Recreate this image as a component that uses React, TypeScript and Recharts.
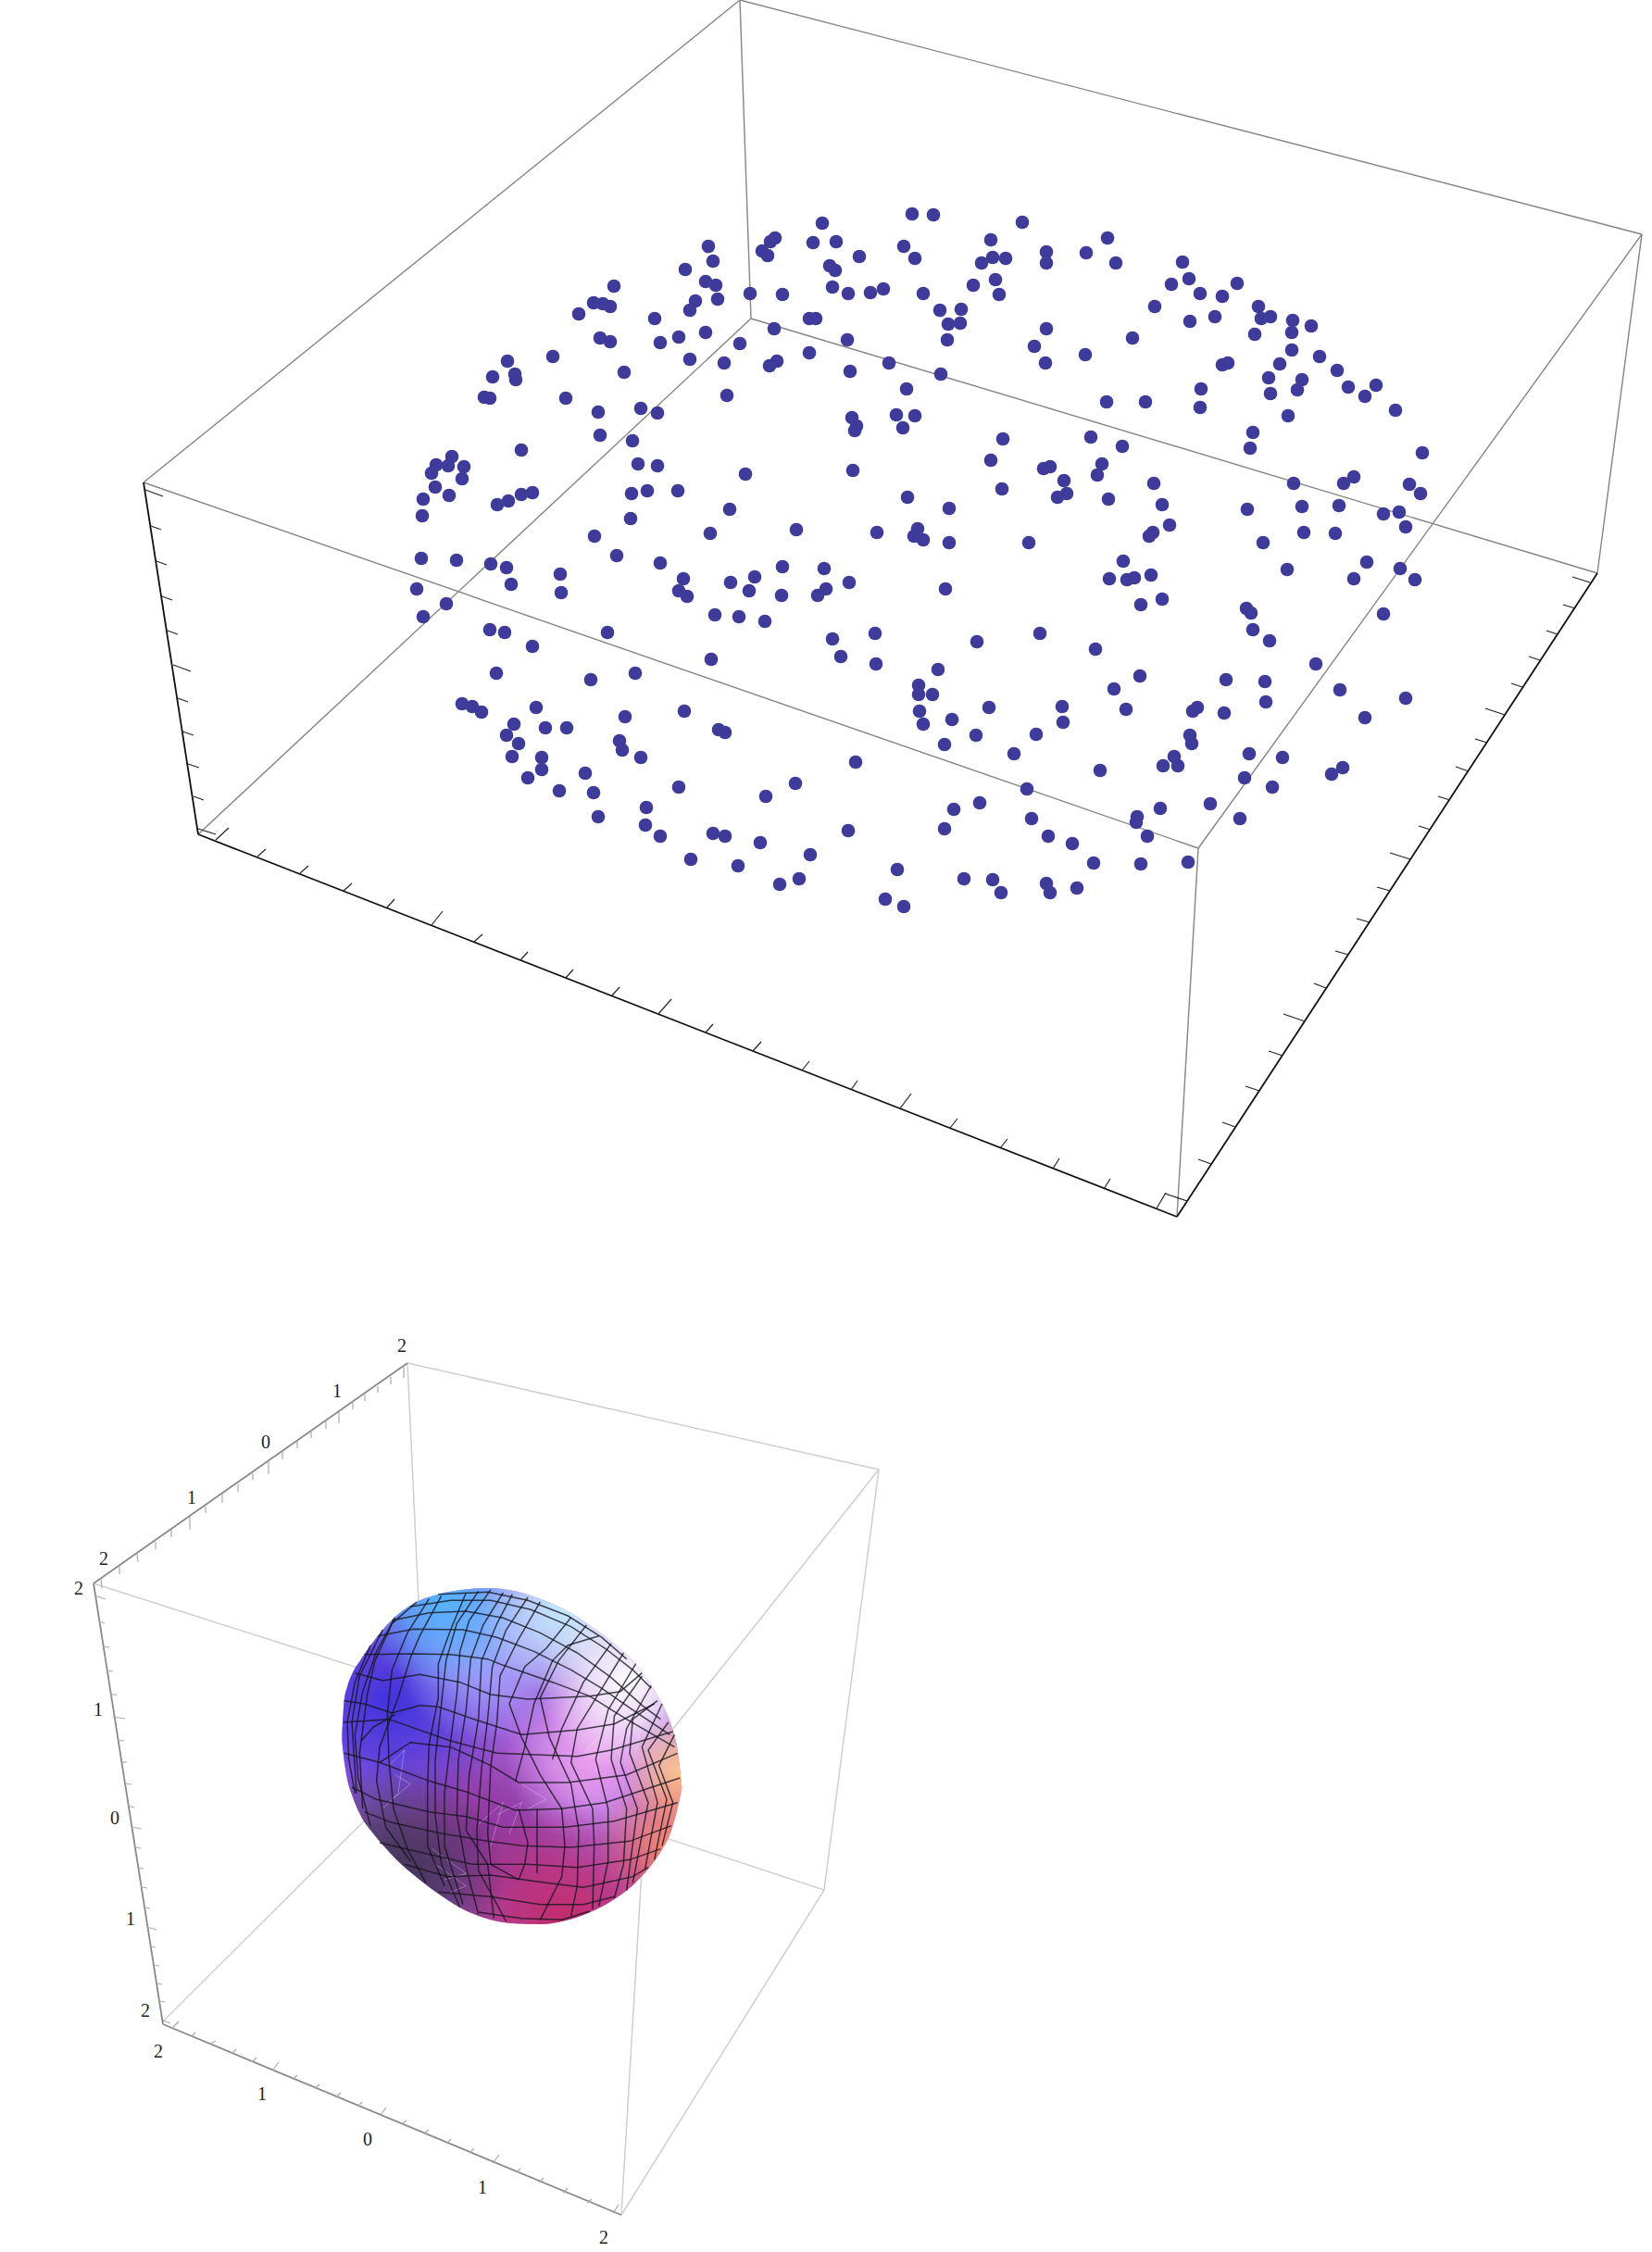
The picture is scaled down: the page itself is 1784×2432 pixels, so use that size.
import { Area, ComposedChart, Line, Scatter, XAxis, YAxis } from "recharts";

type Seg = number[];

// dots of the upper plot, read as [x, y] on the page
const dots: number[][] = [
  [985,231],[888,241],[837,257],[832,261],[878,262],[903,261],[976,266],[765,266],[823,271],[829,276],[928,277],[988,279],[770,282],[896,287],[902,292],[740,291],[762,304],[773,308],[663,309],[899,310],[916,317],[940,316],[954,312],[810,317],[845,318],[997,317],[641,327],[651,328],[659,331],[751,325],[775,323],[745,335],[625,339],[707,344],[874,344],[881,344],[836,355],[762,359],[733,364],[648,365],[659,369],[713,370],[915,367],[799,371],[597,385],[745,388],[874,381],[782,392],[839,390],[831,395],[960,392],[548,390],[918,401],[532,407],[556,404],[557,410],[674,402],[979,420],[523,429],[529,430],[611,430],[785,427],[692,441],[710,446],[646,445],[920,451],[925,460],[923,465],[968,448],[988,449],[975,462],[648,470],[683,476],[563,486],[488,493],[471,502],[484,503],[501,504],[466,511],[499,517],[689,501],[710,503],[805,512],[921,508],[470,526],[485,535],[457,539],[682,533],[699,530],[732,530],[575,532],[563,534],[549,541],[537,545],[980,537],[456,557],[788,550],[681,560],[860,572],[642,579],[767,576],[947,575],[991,571],[987,579],[997,583],
  [1008,232],[1104,240],[1070,259],[1130,272],[1130,284],[1072,278],[1086,279],[1060,284],[1196,257],[1173,273],[1205,284],[1277,283],[1075,302],[1051,308],[1079,318],[1265,307],[1284,301],[1296,317],[1336,306],[1320,320],[1247,331],[1015,335],[1038,334],[1024,350],[1037,349],[1023,367],[1359,331],[1362,344],[1372,342],[1312,342],[1285,347],[1396,346],[1416,352],[1395,359],[1355,361],[1130,355],[1117,374],[1223,365],[1395,378],[1172,383],[1129,392],[1425,385],[1326,392],[1320,394],[1382,393],[1444,400],[1370,408],[1406,410],[1401,421],[1372,425],[1016,404],[1456,418],[1486,416],[1474,428],[1297,420],[1296,440],[1195,434],[1237,434],[1507,443],[1391,449],[1353,467],[1350,484],[1083,474],[1178,472],[1212,482],[1536,489],[1070,497],[1190,501],[1134,504],[1127,506],[1185,513],[1149,519],[1246,522],[1462,515],[1451,522],[1522,523],[1397,522],[1534,533],[1082,528],[1152,533],[1142,537],[1197,539],[1255,545],[1406,547],[1446,546],[1347,550],[1025,549],[1511,553],[1494,555],[1263,567],[1518,569],[1245,575],[1241,579],[1408,575],[1442,576],[1111,586],[1025,586],[1364,586],
  [455,603],[493,605],[530,609],[547,613],[605,620],[666,600],[713,608],[738,625],[789,629],[815,623],[845,612],[890,614],[917,629],[450,636],[552,631],[606,640],[733,638],[742,644],[809,638],[844,643],[892,636],[883,643],[482,652],[457,666],[772,664],[798,666],[826,671],[529,680],[545,683],[656,683],[899,690],[945,684],[575,698],[908,709],[946,717],[768,712],[536,727],[638,734],[686,727],[992,740],[992,750],[993,768],[997,782],[499,760],[510,763],[520,769],[579,764],[739,768],[675,774],[555,782],[589,786],[612,786],[547,794],[776,788],[783,791],[560,803],[669,800],[672,810],[692,818],[553,817],[585,818],[585,831],[924,823],[632,835],[570,840],[733,850],[859,846],[604,854],[641,856],[827,860],[698,872],[646,882],[697,891],[916,897],[713,903],[770,900],[783,903],[821,910],[875,923],[746,928],[797,935],[969,939],[863,949],[842,955],[956,971],[976,979],
  [1213,606],[1243,621],[1198,625],[1225,624],[1217,626],[1390,615],[1476,607],[1512,614],[1462,625],[1528,626],[1021,636],[1255,647],[1232,653],[1346,657],[1351,662],[1494,663],[1353,680],[1371,692],[1055,693],[1123,684],[1183,701],[1421,717],[1013,723],[1231,730],[1324,734],[1366,736],[1203,744],[1447,745],[1007,750],[1518,754],[1367,758],[1068,764],[1147,763],[1216,766],[1293,764],[1288,768],[1322,770],[1474,775],[1028,777],[1148,780],[1054,794],[1119,793],[1285,794],[1287,803],[1020,804],[1095,814],[1349,814],[1385,818],[1268,817],[1256,827],[1272,827],[1450,829],[1438,836],[1188,832],[1344,840],[1374,850],[1109,852],[1058,867],[1030,874],[1307,868],[1253,873],[1228,882],[1227,888],[1114,884],[1339,884],[1020,895],[1132,903],[1239,903],[1158,911],[1181,932],[1232,933],[1283,931],[1041,949],[1072,950],[1130,954],[1081,964],[1134,964],[1163,959],
];

const topBoxEdges: Seg[] = [
  [155,521,799,0],[799,0,1773,253],[1773,253,1294,916],[1294,916,155,521],
  [799,0,811,344],[811,344,214,901],[811,344,1725,619],[1773,253,1725,619],[1294,916,1271,1314],
];
const topAxes: Seg[] = [[155,521,214,901],[214,901,1271,1314],[1271,1314,1725,619]];
const topTicks: Seg[] = [
  [157,529,176,536],[163,568,174,572],[169,606,180,610],[175,644,186,648],[181,681,192,685],[187,718,206,725],[192,754,203,758],[197,790,209,794],[203,825,215,829],[209,860,220,864],[214,895,233,901],
  [233,907,247,894],[278,925,287,917],[324,943,333,935],[371,962,380,954],[418,980,426,971],[466,999,478,984],[512,1017,521,1009],[562,1037,570,1028],[611,1056,619,1047],[661,1075,669,1066],[711,1095,725,1079],[762,1115,770,1106],[813,1135,822,1125],[866,1156,874,1146],[919,1177,926,1167],[972,1197,984,1181],[1026,1218,1034,1208],[1080,1240,1088,1230],[1137,1262,1144,1251],[1192,1284,1199,1273],[1249,1305,1259,1288],
  [1282,1297,1258,1289],[1308,1257,1294,1252],[1334,1217,1320,1212],[1360,1178,1345,1173],[1385,1140,1370,1135],[1409,1103,1386,1095],[1432,1067,1419,1062],[1456,1031,1442,1027],[1479,996,1465,992],[1501,962,1487,958],[1523,928,1501,921],[1545,896,1532,892],[1566,864,1553,860],[1586,833,1572,828],[1606,802,1593,798],[1625,772,1604,765],[1644,742,1632,738],[1663,713,1651,709],[1682,685,1670,681],[1701,657,1688,653],[1717,629,1698,623],
];

const lowBoxEdges: Seg[] = [
  [440,1472,949,1587],[949,1587,700,1901],[700,1901,101,1710],
  [440,1472,460,1900],[460,1900,175,2184],[460,1900,890,2041],[949,1587,890,2041],[700,1901,671,2392],[671,2392,890,2041],
];
const lowAxes: Seg[] = [[101,1710,440,1472],[101,1710,176,2186],[176,2186,671,2392]];
const lowTicks: Seg[] = [
  [109,1705,110,1715],[129,1692,129,1700],[148,1678,149,1687],[168,1665,168,1673],[185,1652,185,1660],[205,1638,205,1652],[222,1627,222,1634],[240,1613,240,1623],[257,1603,257,1611],[273,1591,273,1598],[290,1578,290,1592],[305,1567,305,1576],[321,1557,321,1564],[336,1546,336,1553],[352,1535,352,1543],[366,1525,366,1537],[381,1515,381,1522],[394,1506,394,1513],[408,1497,408,1504],[422,1487,422,1495],[436,1476,436,1488],
  [102,1723,114,1727],[107,1751,113,1753],[111,1778,118,1779],[115,1804,122,1805],[119,1830,126,1830],[122,1854,135,1856],[127,1879,134,1880],[130,1903,137,1903],[135,1926,142,1927],[138,1950,145,1952],[142,1973,153,1975],[145,1995,152,1996],[149,2017,155,2018],[152,2038,159,2039],[156,2060,162,2061],[159,2081,169,2084],[162,2102,168,2103],[166,2122,172,2123],[169,2142,175,2143],[172,2161,178,2162],[176,2182,184,2185],
  [187,2189,193,2183],[207,2199,211,2195],[227,2207,233,2204],[250,2218,255,2213],[272,2227,277,2222],[294,2236,301,2227],[316,2246,321,2241],[340,2255,345,2251],[362,2265,368,2260],[386,2275,391,2270],[411,2284,417,2276],[434,2294,439,2290],[458,2304,463,2300],[482,2315,487,2310],[507,2325,512,2320],[532,2336,539,2327],[557,2346,562,2342],[582,2357,587,2352],[608,2368,613,2363],[634,2379,639,2375],[662,2390,668,2381],
];

const tickLabels = [
  { x: 434, y: 1453, t: "2" }, { x: 364, y: 1502, t: "1" }, { x: 287, y: 1557, t: "0" }, { x: 207, y: 1617, t: "1" }, { x: 112, y: 1683, t: "2" },
  { x: 85, y: 1715, t: "2" }, { x: 106, y: 1846, t: "1" }, { x: 124, y: 1963, t: "0" }, { x: 141, y: 2072, t: "1" }, { x: 157, y: 2171, t: "2" },
  { x: 171, y: 2215, t: "2" }, { x: 283, y: 2261, t: "1" }, { x: 397, y: 2310, t: "0" }, { x: 521, y: 2362, t: "1" }, { x: 652, y: 2416, t: "2" },
];

// ellipsoid, read in its own 3x crop units
const shellX = [118,125,135,150,180,215,250,300,360,430,510,590,680,760,840,920,1000,1060,1110,1150,1185,1205,1215,1219];
const shellTop = [640,530,485,445,395,345,300,250,210,185,170,165,175,200,235,285,345,400,465,530,610,690,770,810];
const shellBottom = [660,725,785,835,905,955,997,1050,1102,1155,1205,1237,1252,1254,1243,1216,1173,1128,1075,1020,950,880,835,815];

const meshAcross: number[][] = [
  [430,185,590,178,720,205,850,255,960,325,1040,395],
  [340,225,470,205,600,205,730,235,860,290,970,360,1060,430,1120,490],
  [280,270,400,245,520,240,640,262,760,310,880,375,990,455,1090,545,1150,590],
  [235,320,350,298,510,300,620,325,740,370,860,430,960,490,1060,560,1180,640],
  [190,380,350,378,470,380,590,395,640,415,800,470,920,515,1040,590,1195,680],
  [160,440,250,465,370,445,500,470,600,510,720,525,920,515,1020,500,1090,440],
  [125,530,190,540,280,570,370,545,430,550,560,595,700,640,880,625,1000,605,1130,540],
  [180,660,220,615,290,575],
  [122,600,270,590,470,660,620,700,880,710,990,690,1190,630],
  [240,730,340,665,470,680,600,740,690,795,850,795,1040,770,1205,700],
  [125,700,240,730,400,790,520,825,680,885,830,880,970,860,1213,780],
  [150,810,230,850,400,890,520,905,640,940,840,940,1000,920,1205,860],
  [190,890,280,925,440,960,590,985,700,1000,860,1005,1050,985,1185,935],
  [240,990,390,1025,540,1060,720,1060,880,1070,1050,1045,1150,1010],
  [320,1060,460,1100,600,1095,780,1120,900,1135,1060,1100,1110,1070],
  [430,1150,600,1165,760,1190,900,1190,1000,1165],
  [560,1215,700,1235,830,1240,920,1212],
];
const meshDown: number[][] = [
  [440,190,370,320,340,390,300,520,240,680,230,790,260,940,340,1050],
  [520,180,470,300,430,410,430,520,400,670,395,810,395,1000,450,1130],
  [600,170,530,270,500,370,490,510,470,660,450,830,450,1000,510,1190],
  [670,185,620,280,570,400,560,590,530,770,520,950,590,1060,610,1235],
  [760,210,690,330,630,450,620,600,600,740,590,960,600,1060,690,1110,710,1060,720,990,690,880],
  [860,260,780,360,710,420,660,540,700,650,760,770,830,880,840,1000,830,1100,760,1240],
  [950,320,850,350,800,400,740,540,710,680,680,790],
  [1030,375,960,490,880,620,860,730,930,880,935,1000,930,1205],
  [1090,450,1000,580,990,720,1040,880,1030,1060,1000,1170],
  [1140,530,1060,590,1050,700,1110,860,1060,1120],
  [1175,600,1110,690,1170,850,1130,1045],
  [360,210,280,280,225,400,200,510,175,700,185,880],
  [250,300,175,450,150,600,165,830],
  [750,880,750,1090],
  [290,260,230,370,185,500,160,640,170,780,210,935],
  [210,350,160,470,135,600,140,720,160,830],
  [400,200,330,310,280,430,265,570,270,720,285,880,330,1010,390,1120],
  [560,175,490,280,455,400,440,540,420,720,420,900,440,1060,500,1200],
  [640,180,575,285,535,395,520,560,495,720,490,900,520,1070,560,1222],
  [720,195,650,300,605,420,590,590,570,750,555,950,560,1080,650,1245],
  [910,285,820,400,760,520,790,650,860,800,885,950,880,1130,860,1228],
  [990,345,900,470,830,620,800,720],
  [1070,410,980,560,940,720,980,880,980,1050,950,1195],
  [1120,480,1040,620,1020,730,1075,880,1040,1145],
  [1155,540,1090,680,1140,860,1100,1075],
  [1195,640,1145,740,1190,860,1155,1000],
];
// pale facet edges that show through the lower left of the surface
const facetEdges: number[][] = [
  [270,740,320,690,300,830,250,880],
  [290,770,340,800,280,850],
  [410,1010,520,1090,450,1110],
  [420,1060,520,1130,470,1150],
  [620,900,700,860,660,960],
  [900,700,960,640,940,760],
  [980,700,1040,640,1010,760],
  [700,800,780,850,720,880],
  [560,930,640,860,600,1000],
  [1040,640,1090,590,1070,700],
];

const toPoints = (flat: number[]) => {
  const pts: { x: number; y: number }[] = [];
  for (let i = 0; i < flat.length; i += 2) pts.push({ x: flat[i], y: flat[i + 1] });
  return pts;
};

const dotData = dots.map(([x, y]) => ({ x, y }));
const shellData = shellX.map((x, i) => ({ x, range: [shellTop[i], shellBottom[i]] }));

const shellLayers = [
  { id: "base", c: "#a462dc", cx: 0.5, cy: 0.5, r: 0.9, o: 1 },
  { id: "magenta", c: "#8f3296", cx: 0.4, cy: 0.74, r: 0.34, o: 0.95 },
  { id: "pink", c: "#f0a4f0", cx: 0.74, cy: 0.5, r: 0.26, o: 0.95 },
  { id: "blue", c: "#4133dc", cx: 0.14, cy: 0.34, r: 0.36, o: 1 },
  { id: "peri", c: "#a4a8ff", cx: 0.42, cy: 0.2, r: 0.26, o: 0.95 },
  { id: "sky", c: "#54b4ff", cx: 0.3, cy: 0.04, r: 0.26, o: 1 },
  { id: "pale", c: "#c4f0ff", cx: 0.66, cy: 0.06, r: 0.26, o: 1 },
  { id: "white", c: "#ffffff", cx: 0.84, cy: 0.28, r: 0.26, o: 1 },
  { id: "peach", c: "#ffc88c", cx: 1.0, cy: 0.55, r: 0.17, o: 1 },
  { id: "orange", c: "#ff8a60", cx: 0.98, cy: 0.78, r: 0.24, o: 0.95 },
  { id: "red", c: "#c42a68", cx: 0.66, cy: 1.0, r: 0.36, o: 1 },
  { id: "dark", c: "#3c3450", cx: 0.14, cy: 0.86, r: 0.34, o: 1 },
];

const Dot = (props: any) => <circle cx={props.cx} cy={props.cy} r={7.3} fill="#3f3b9a" />;

const TickText = (props: any) => (
  <text
    x={props.cx}
    y={props.cy}
    textAnchor="middle"
    dominantBaseline="central"
    fontFamily="Liberation Serif"
    fontSize={20}
    fill="#222"
  >
    {props.payload.t}
  </text>
);

const segLines = (segs: Seg[], name: string, color: string, width: number) =>
  segs.map((s, i) => (
    <Line
      key={`${name}${i}`}
      data={toPoints(s)}
      dataKey="y"
      stroke={color}
      strokeWidth={width}
      dot={false}
      activeDot={false}
      isAnimationActive={false}
    />
  ));

const PageChart = () => (
  <ComposedChart width={1784} height={2432} margin={{ top: 0, right: 0, bottom: 0, left: 0 }}>
    <XAxis dataKey="x" type="number" domain={[0, 1784]} hide allowDataOverflow />
    <YAxis dataKey="y" type="number" domain={[0, 2432]} reversed hide allowDataOverflow />
    {segLines(topBoxEdges, "tb", "#858585", 1.4)}
    {segLines(topAxes, "ta", "#111", 1.8)}
    {segLines(topTicks, "tt", "#222", 1.2)}
    {segLines(lowBoxEdges, "lb", "#cfcfcf", 1.5)}
    {segLines(lowAxes, "la", "#8a8a8a", 1.8)}
    {segLines(lowTicks, "lt", "#aaaaaa", 1.2)}
    <Scatter data={dotData} dataKey="y" shape={Dot} isAnimationActive={false} />
    <Scatter data={tickLabels} dataKey="y" shape={TickText} isAnimationActive={false} />
  </ComposedChart>
);

const EllipsoidChart = () => (
  <ComposedChart width={420} height={440} margin={{ top: 0, right: 0, bottom: 0, left: 0 }}>
    <defs>
      {shellLayers.map((l) => (
        <radialGradient key={l.id} id={`shell-${l.id}`} cx={l.cx} cy={l.cy} r={l.r}>
          <stop offset="0%" stopColor={l.c} stopOpacity={l.o} />
          <stop offset="45%" stopColor={l.c} stopOpacity={l.id === "base" ? 1 : l.o * 0.7} />
          <stop offset="100%" stopColor={l.c} stopOpacity={l.id === "base" ? 1 : 0} />
        </radialGradient>
      ))}
    </defs>
    <XAxis dataKey="x" type="number" domain={[0, 1260]} hide allowDataOverflow />
    <YAxis type="number" domain={[0, 1320]} reversed hide allowDataOverflow />
    {shellLayers.map((l) => (
      <Area
        key={l.id}
        data={shellData}
        dataKey="range"
        type="monotone"
        stroke="none"
        fill={`url(#shell-${l.id})`}
        fillOpacity={1}
        dot={false}
        activeDot={false}
        isAnimationActive={false}
      />
    ))}
    {facetEdges.map((m, i) => (
      <Line
        key={`f${i}`}
        data={toPoints(m)}
        dataKey="y"
        stroke="#ffffff"
        strokeOpacity={0.3}
        strokeWidth={1}
        dot={false}
        activeDot={false}
        isAnimationActive={false}
      />
    ))}
    {[...meshAcross, ...meshDown].map((m, i) => (
      <Line
        key={i}
        data={toPoints(m)}
        dataKey="y"
        type="linear"
        stroke="#15151c"
        strokeOpacity={0.78}
        strokeWidth={1.5}
        dot={false}
        activeDot={false}
        isAnimationActive={false}
      />
    ))}
  </ComposedChart>
);

export default function App() {
  return (
    <div style={{ position: "absolute", left: 0, top: 0, width: 1784, height: 2432, background: "#fff" }}>
      <div style={{ position: "absolute", left: 0, top: 0 }}>
        <PageChart />
      </div>
      <div style={{ position: "absolute", left: 330, top: 1660 }}>
        <EllipsoidChart />
      </div>
    </div>
  );
}
